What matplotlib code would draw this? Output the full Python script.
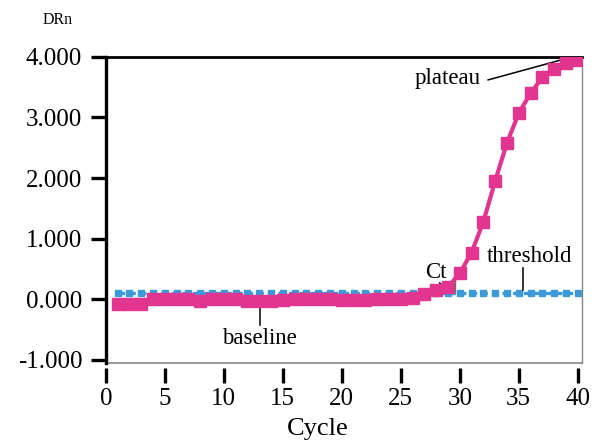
import numpy as np
import matplotlib
matplotlib.use("Agg")
import matplotlib.pyplot as plt

## data
cycles = list(range(1, 41))
drn = [-0.07, -0.07, -0.07, 0.0, 0.0, 0.0, 0.0, -0.02, 0.0, 0.0,
       0.0, -0.02, -0.02, -0.02, -0.01, 0.0, 0.0, 0.0, 0.0, -0.01,
       -0.01, -0.01, 0.0, 0.0, 0.01, 0.02, 0.08, 0.15, 0.2, 0.43,
       0.77, 1.28, 1.95, 2.58, 3.07, 3.4, 3.66, 3.8, 3.9, 3.95]
threshold = [0.1] * 40
xticks = [0, 5, 10, 15, 20, 25, 30, 35, 40]
yticks = [-1.0, 0.0, 1.0, 2.0, 3.0, 4.0]

pink = '#e2358f'
blue = '#3c9ad8'

plt.rcParams['font.family'] = ['Liberation Serif', 'DejaVu Serif']

fig = plt.figure(figsize=(5.98, 4.41), dpi=100)
ax = fig.add_axes([0.177, 0.177, 0.796, 0.694])

# threshold (blue dashed with small squares)
ax.plot(cycles, threshold, color=blue, lw=2.4, ls=(0, (2, 1.2)),
        marker='s', ms=4.5, zorder=2)
# amplification curve
ax.plot(cycles, drn, color=pink, lw=3.0, marker='s', ms=8.5, zorder=3)
# small green line at Ct
ax.plot([29.6, 29.6], [0.1, 0.42], color='#3a8a3a', lw=1, zorder=1)

ax.set_xlim(0, 40.35)
ax.set_ylim(-1.05, 4.0)
ax.set_xticks(xticks)
ax.set_xticklabels([str(t) for t in xticks])
ax.set_yticks(yticks)
ax.set_yticklabels(['%.3f' % t for t in yticks])

# spines: thick black left/top, thin gray right/bottom
ax.spines['left'].set_linewidth(2.4)
ax.spines['top'].set_linewidth(2.0)
ax.spines['right'].set_color('#888888')
ax.spines['right'].set_linewidth(1.0)
ax.spines['bottom'].set_visible(False)
ax.axhline(-1.05, color='#888888', lw=1.2, clip_on=False, zorder=1)
ax.spines['bottom'].set_position(('outward', 4))

ax.tick_params(axis='y', direction='out', length=11, width=2.4,
               pad=6, labelsize=18)
ax.tick_params(axis='x', direction='out', length=11, width=2.4,
               pad=3, labelsize=18)

fig.text(318 / 598, 1 - 429 / 441, 'Cycle', fontsize=19,
         ha='center', va='center')
fig.text(0.072, 0.955, 'DRn', fontsize=11.5, va='center')

# labels with leader lines
ax.text(31.8, 3.65, 'plateau', fontsize=16.5, ha='right', va='center')
ax.plot([32.4, 38.6], [3.62, 3.95], color='black', lw=1.1)
ax.text(28.0, 0.45, 'Ct', fontsize=16.5, ha='center', va='center')
ax.plot([28.3, 29.0], [0.27, 0.13], color='black', lw=1.1)
ax.text(35.9, 0.71, 'threshold', fontsize=16.5, ha='center', va='center')
ax.plot([35.4, 35.4], [0.51, 0.15], color='black', lw=1.1)
ax.text(13.0, -0.64, 'baseline', fontsize=16.5, ha='center', va='center')
ax.plot([13.05, 13.05], [-0.1, -0.43], color='black', lw=1.1)

fig.savefig('out.png', dpi=100)
